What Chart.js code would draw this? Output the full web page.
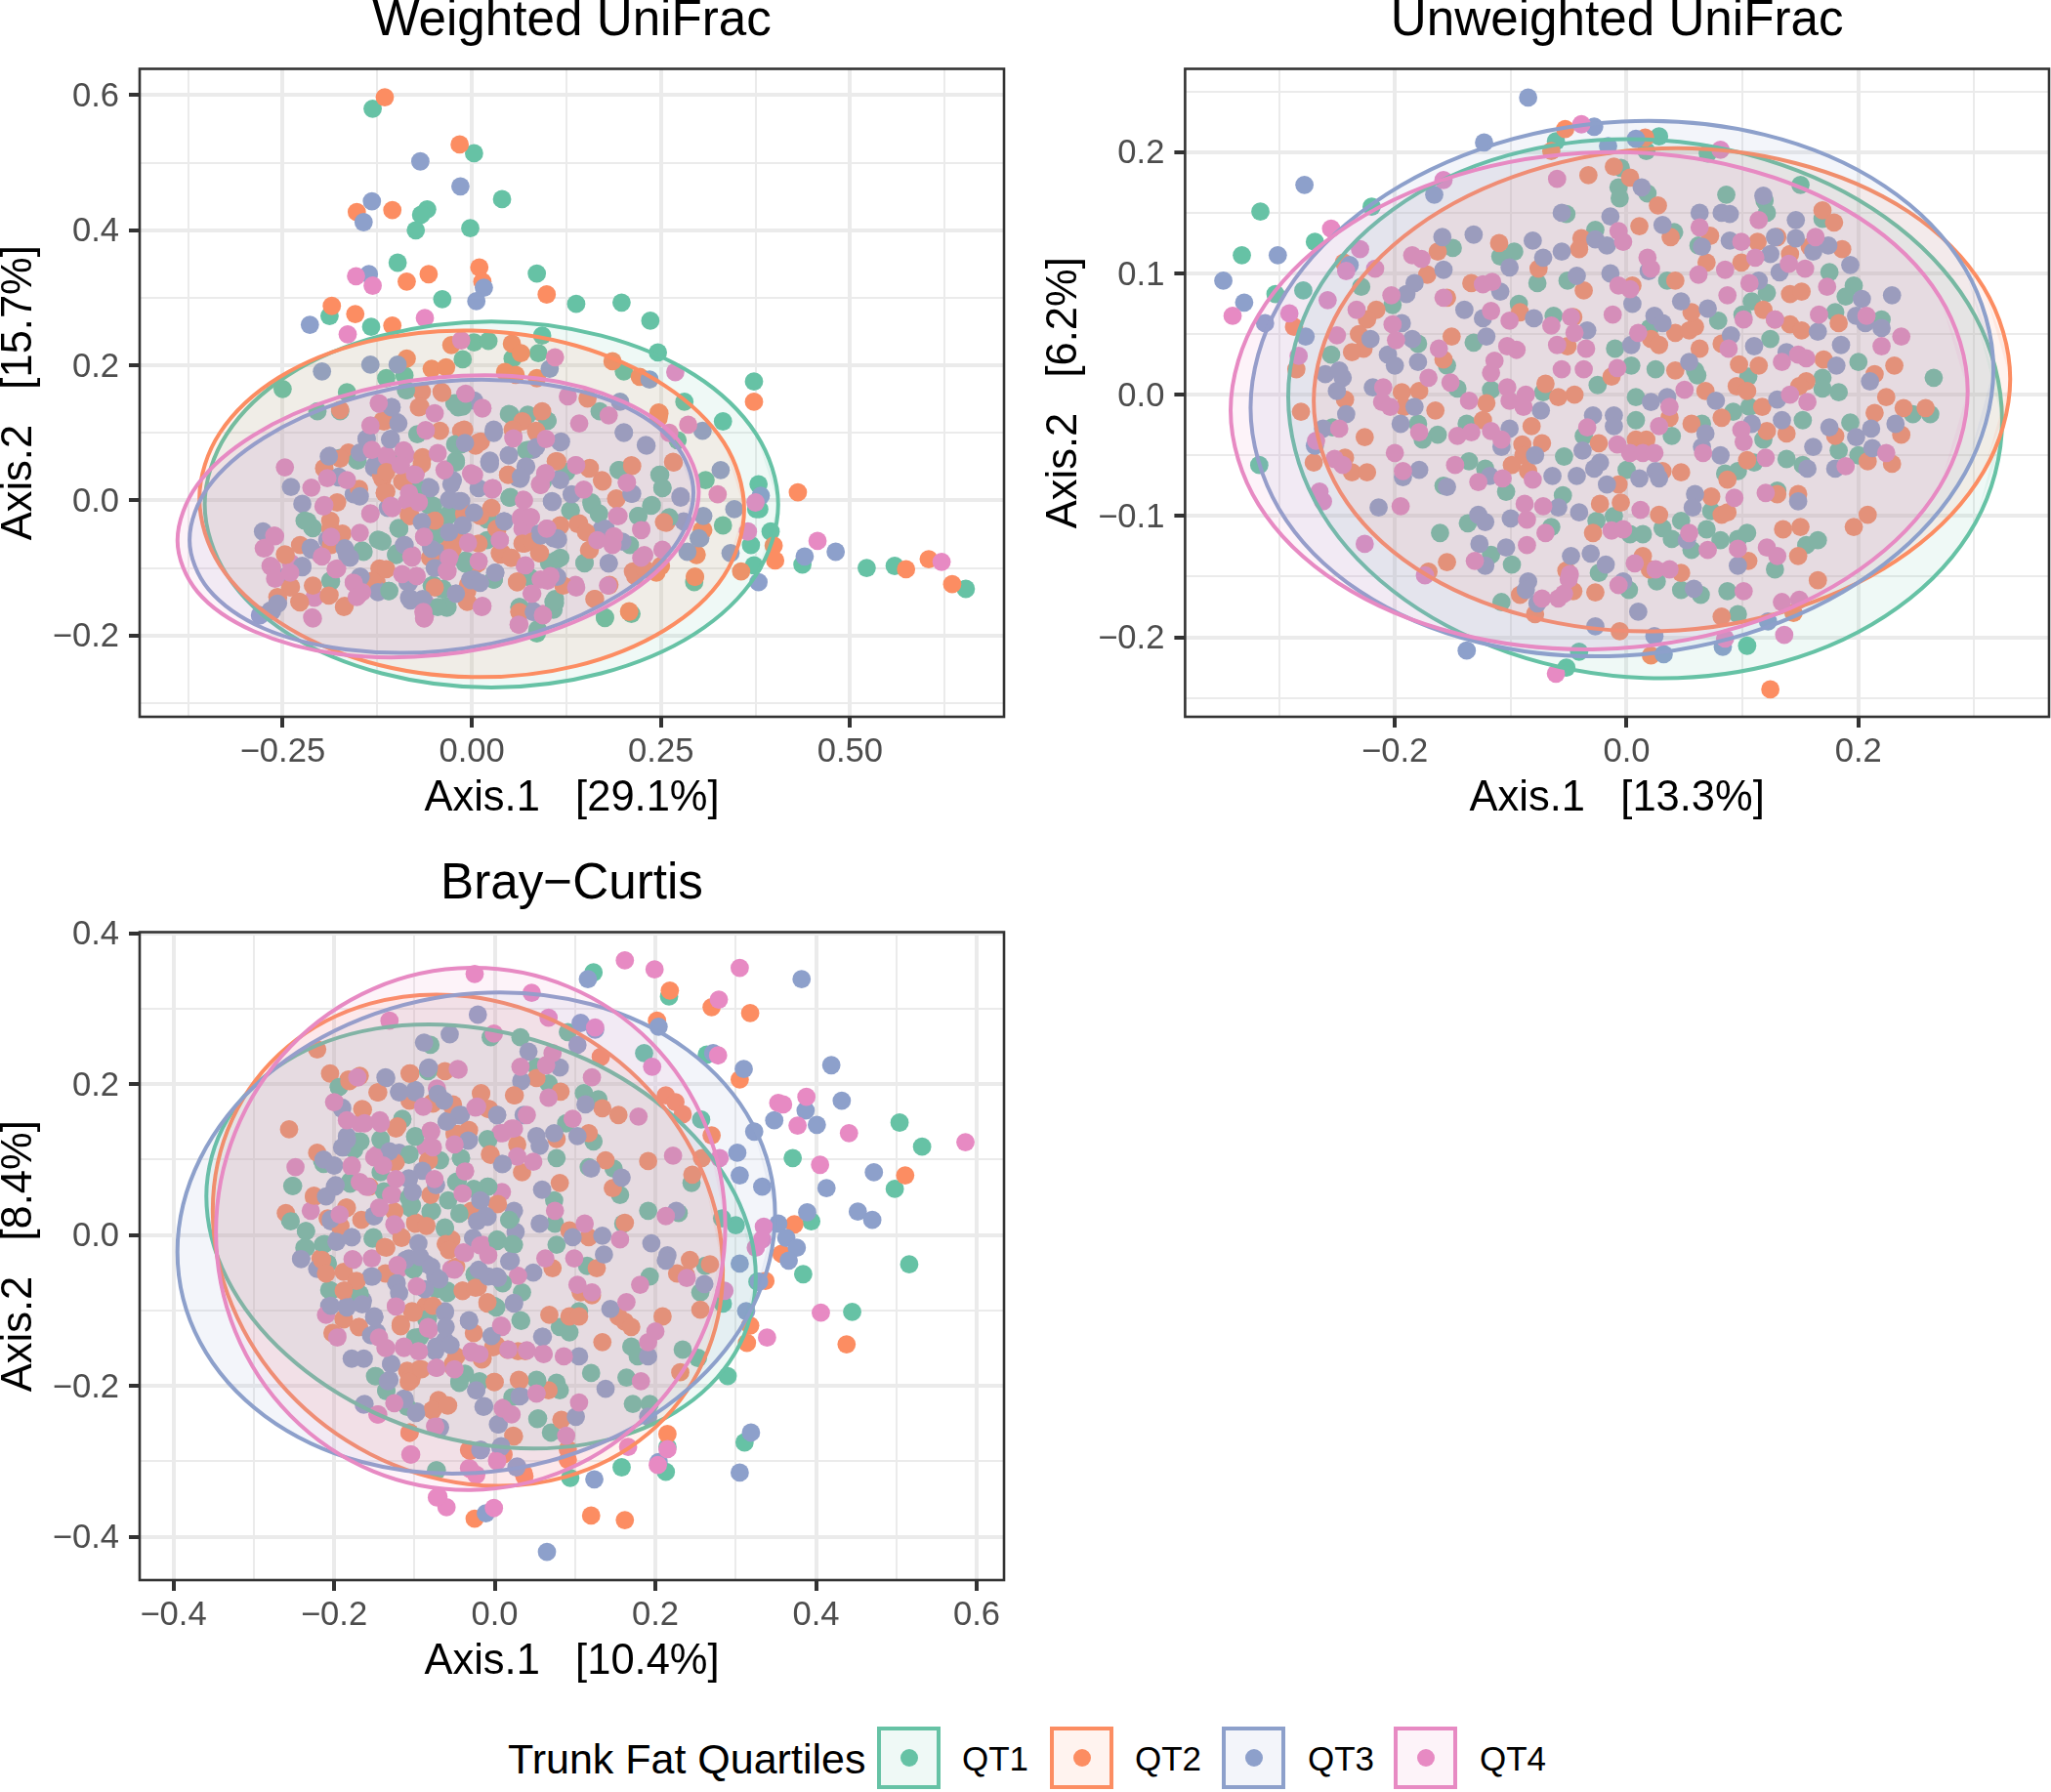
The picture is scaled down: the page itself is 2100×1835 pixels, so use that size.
<!DOCTYPE html>
<html>
<head>
<meta charset="utf-8">
<script src="https://cdn.jsdelivr.net/npm/chart.js@4/dist/chart.umd.js"></script>
<style>
html,body{margin:0;padding:0;background:#fff;width:2100px;height:1835px;overflow:hidden;font-family:"Liberation Sans",Arial,sans-serif}
canvas{position:absolute}
.lg{position:absolute;white-space:nowrap;color:#000;line-height:60px;height:60px}
.key{position:absolute;box-sizing:border-box;width:65px;height:64px;top:1768px;border-width:4px;border-style:solid}
.dot{position:absolute;width:18px;height:18px;border-radius:50%;left:19.5px;top:19px}
</style>
</head>
<body>
<canvas id="c1" width="1040" height="870" style="left:0;top:-12px"></canvas>
<canvas id="c2" width="1047" height="870" style="left:1070px;top:-12px"></canvas>
<canvas id="c3" width="1040" height="870" style="left:0;top:872px"></canvas>
<div class="lg" style="left:520px;top:1771px;font-size:43px">Trunk Fat Quartiles</div>
<div class="key" style="left:898px;background:rgba(102,194,165,.1);border-color:#66C2A5"><div class="dot" style="background:#66C2A5"></div></div>
<div class="lg" style="left:985px;top:1771px;font-size:35px">QT1</div>
<div class="key" style="left:1075px;background:rgba(252,141,98,.1);border-color:#FC8D62"><div class="dot" style="background:#FC8D62"></div></div>
<div class="lg" style="left:1162px;top:1771px;font-size:35px">QT2</div>
<div class="key" style="left:1251px;background:rgba(141,160,203,.1);border-color:#8DA0CB"><div class="dot" style="background:#8DA0CB"></div></div>
<div class="lg" style="left:1339px;top:1771px;font-size:35px">QT3</div>
<div class="key" style="left:1427px;background:rgba(231,138,195,.1);border-color:#E78AC3"><div class="dot" style="background:#E78AC3"></div></div>
<div class="lg" style="left:1515px;top:1771px;font-size:35px">QT4</div>
<script>
const groupNames = ["QT1","QT2","QT3","QT4"];
const groupColors = ["#66C2A5","#FC8D62","#8DA0CB","#E78AC3"];
const groupFills = ["rgba(102,194,165,.1)","rgba(252,141,98,.1)","rgba(141,160,203,.1)","rgba(231,138,195,.1)"];

// ---------- Weighted UniFrac ----------
const weightedXTicks = [-0.375,-0.25,-0.125,0,0.125,0.25,0.375,0.5,0.625];
const weightedXMajor = [-0.25,0,0.25,0.5];
const weightedYTicks = [-0.3,-0.2,-0.1,0,0.1,0.2,0.3,0.4,0.5,0.6];
const weightedYMajor = [-0.2,0,0.2,0.4,0.6];
const weightedQT1 = [[-.131,.580],[.003,.514],[.040,.446],[-.059,.431],[-.067,.423],[-.074,.400],[-.002,.403],[-.098,.352],[.086,.336],[-.039,.298],[.138,.291],[.198,.293],[.236,.266],[-.188,.273],[-.133,.257],[.093,.244],[.246,.219],[.003,.234],[.022,.236],[-.012,.209],[.088,.218],[.054,.210],[.201,.191],[-.25,.165],[.373,.176],[.281,.146],[.332,.117],[.272,.089],[.379,.024],[.376,-.013],[.380,-.013],[.395,-.046],[.369,-.066],[.373,-.096],[.437,-.095],[.522,-.100],[.559,-.097],[.653,-.131],[.294,-.121],[.211,-.168],[.176,-.173],[.086,-.197],[.110,-.152],[.064,-.160],[-.033,-.157],[-.053,-.126],[-.110,-.134],[.332,-.037],[.309,.030],[.249,.038],[.252,.019],[.194,.045],[.261,-.027],[.238,-.007],[.220,-.023],[.209,-.066],[.159,-.007],[.168,-.019],[.131,-.015],[.111,-.089],[.149,-.092],[.169,.132],[.100,.118],[.051,.127],[.075,.075],[-.014,.083],[-.018,.138],[-.086,.163],[-.089,.185],[-.113,.181],[-.165,.160],[-.204,.132],[-.174,.132],[-.152,.060],[-.174,.063],[-.106,.060],[-.073,.016],[-.217,-.031],[-.210,-.041],[-.096,-.042],[-.124,-.058],[-.145,-.074],[.021,-.027],[-.027,-.019],[-.057,-.007],[-.099,-.078],[-.008,-.089],[.029,-.117],[-.187,-.119],[.094,.028],[.051,.005]];
const weightedQT2 = [[-.115,.597],[-.016,.527],[-.152,.427],[-.105,.430],[.010,.345],[.014,.324],[-.057,.335],[-.086,.324],[.099,.305],[-.185,.288],[-.154,.276],[-.105,.259],[-.027,.230],[.053,.232],[.065,.218],[-.086,.210],[-.053,.195],[-.034,.197],[.044,.190],[.058,.186],[.086,.181],[.186,.206],[.222,.183],[.373,.146],[.247,.130],[.247,.122],[.431,.012],[.399,-.067],[.401,-.089],[.356,-.105],[.604,-.087],[.574,-.102],[.635,-.124],[.295,-.113],[.297,-.080],[.306,-.044],[.257,-.033],[.267,.056],[.211,.052],[.191,.003],[.172,.030],[.156,.048],[.111,.058],[.153,.151],[.092,.130],[.068,.118],[.086,.100],[.012,.087],[-.014,.103],[-.042,.103],[-.066,.161],[-.040,.161],[-.070,.138],[-.174,.134],[-.195,.048],[-.163,.071],[-.118,.118],[-.118,.032],[-.150,.016],[-.113,.013],[-.178,-.003],[-.187,-.042],[-.083,-.023],[-.050,-.031],[-.247,-.080],[-.227,-.066],[-.239,-.128],[-.228,-.150],[-.256,-.144],[-.168,-.156],[-.188,-.140],[-.122,-.101],[-.126,-.121],[-.007,-.148],[-.005,-.125],[.008,-.093],[.038,-.080],[.060,-.121],[.064,-.164],[.068,-.062],[.090,-.078],[.116,-.038],[.142,-.034],[.155,-.074],[.182,-.125],[.162,-.146],[.208,-.165],[.213,-.105],[.244,-.107],[.250,-.097],[.034,-.042]];
const weightedQT3 = [[-.068,.502],[-.015,.465],[-.132,.443],[-.143,.412],[-.136,.335],[.016,.315],[.006,.295],[-.214,.260],[-.198,.191],[-.134,.201],[-.098,.201],[.103,.195],[.235,.179],[.196,.146],[.201,.101],[.231,.081],[.305,.103],[.329,.045],[.382,.007],[.276,.006],[.212,.010],[.347,-.013],[.302,-.056],[.342,-.078],[.440,-.083],[.481,-.076],[.379,-.121],[.280,-.031],[-.239,.020],[-.224,-.005],[-.276,-.046],[-.188,.066],[-.176,.034],[-.107,.091],[-.099,.116],[-.106,.138],[-.139,.091],[-.129,.048],[-.156,.009],[-.010,.085],[.003,.148],[.029,.100],[.049,.067],[.023,.057],[.081,.075],[.118,.087],[.064,.032],[.116,.032],[-.027,.024],[-.057,.020],[.107,-.002],[.042,-.031],[.090,-.050],[.114,-.058],[.111,-.113],[.081,-.165],[.181,-.093],[.172,-.042],[-.053,-.074],[-.089,-.066],[-.165,-.081],[-.213,-.070],[-.224,-.099],[-.148,-.113],[-.191,-.058],[-.247,-.113],[-.256,-.152],[-.264,-.164],[-.280,-.170],[-.126,-.132],[-.083,-.144],[-.066,-.148],[-.001,-.117],[-.031,-.046],[-.111,-.011]];
const weightedQT4 = [[-.153,.332],[-.131,.318],[-.062,.270],[-.164,.246],[-.014,.237],[.110,.212],[.269,.190],[-.009,.157],[.014,.137],[.127,.154],[.142,.114],[.181,.126],[.286,.112],[.261,.100],[.137,.052],[.205,.027],[.325,.009],[.375,-.003],[.365,-.046],[.457,-.060],[.621,-.091],[-.247,.049],[-.212,.019],[-.122,.143],[-.133,.110],[-.133,.075],[-.061,.103],[-.087,.067],[-.113,.067],[-.273,-.070],[-.261,-.052],[-.264,-.099],[-.239,-.093],[-.211,-.173],[-.208,-.144],[-.200,-.081],[-.178,-.101],[-.156,-.121],[-.150,-.140],[-.134,-.019],[-.195,-.007],[-.105,-.011],[-.079,-.081],[-.035,.044],[-.074,.040],[-.001,.040],[.027,.016],[-.005,-.062],[-.031,-.089],[-.033,-.105],[.014,-.156],[-.062,-.172],[-.061,-.152],[.055,.095],[.090,.024],[.068,.001],[.068,-.023],[.073,-.042],[.099,-.042],[.094,-.168],[.063,-.183],[.137,-.125],[.187,-.054],[.228,-.081],[.224,-.042],[.194,-.023]];
const weightedCoreQT1 = [[-.012,.139],[-.023,.144],[-.087,.163],[-.072,.098],[-.022,.083],[-.021,.059],[-.151,.059],[-.106,.055],[-.074,.017],[-.051,-.008],[-.032,-.023],[-.211,-.040],[-.221,-.030],[-.097,-.041],[-.122,-.059],[-.143,-.076],[-.100,-.081],[-.186,-.120],[-.110,-.134],[-.051,-.125],[-.039,-.132],[-.033,-.159],[-.009,-.093],[.049,.128],[.074,.127],[.100,.118],[.072,.074],[.125,.042],[.195,.045],[.248,.038],[.252,.018],[.050,.004],[.130,-.015],[.158,-.003],[.168,-.020],[.220,-.023],[.237,-.008],[.261,-.025],[.020,-.028],[.117,-.085],[.149,-.093],[.104,-.093],[.029,-.117],[.110,-.146],[.108,-.162],[.063,-.158],[.176,-.174]];
const weightedCoreQT2 = [[-.039,.159],[-.068,.139],[-.116,.117],[-.120,.037],[-.115,.011],[-.187,-.030],[-.149,.017],[-.195,.047],[-.174,.062],[-.083,-.020],[-.049,-.030],[-.065,.064],[-.092,.028],[-.010,.105],[.005,.081],[-.171,-.049],[-.186,-.066],[-.246,-.081],[-.240,-.129],[-.227,-.151],[-.210,-.126],[-.189,-.141],[-.169,-.158],[-.257,-.143],[-.120,-.102],[-.131,-.119],[-.006,-.150],[-.030,-.069],[.093,.132],[.067,.117],[.085,.103],[.054,.105],[.113,.058],[.048,.038],[.155,.047],[.173,.028],[.191,.002],[.212,.051],[.266,.057],[.248,.129],[.254,-.032],[.140,-.035],[.151,-.047],[.117,-.037],[.156,-.073],[.070,-.064],[.089,-.078],[.040,-.078],[.052,-.085],[.009,.086],[.033,-.044],[.060,-.121],[.121,-.126],[.181,-.126],[.163,-.146],[.216,-.112],[.229,-.102],[.063,-.165],[.208,-.164],[.295,-.113],[.297,-.081],[.304,-.044]];
const weightedCoreQT3 = [[-.106,.138],[-.097,.114],[-.108,.090],[-.139,.091],[-.009,.085],[-.148,.071],[-.128,.052],[-.189,.065],[-.176,.035],[-.148,.006],[-.055,.018],[-.029,.001],[-.014,-.001],[-.064,-.032],[-.030,-.048],[-.212,-.073],[-.168,-.071],[-.161,-.085],[-.090,-.067],[-.054,-.068],[-.047,-.076],[-.224,-.097],[-.147,-.113],[-.002,-.117],[-.266,-.163],[-.257,-.153],[-.083,-.122],[-.064,-.147],[-.081,-.148],[-.021,-.138],[-.124,-.136],[.009,.018],[.029,.105],[.049,.067],[.024,.059],[.085,.079],[.117,.086],[.072,.050],[.061,.033],[.117,.030],[.132,.009],[.106,-.001],[.201,.100],[.230,.082],[.211,.010],[.276,.004],[.043,-.031],[.089,-.049],[.113,-.056],[.177,-.042],[.199,-.061],[.181,-.093],[.031,-.107],[.113,-.113],[.080,-.163],[.003,-.117],[.300,-.056],[.285,-.076],[.306,-.023]];
const weightedCoreQT4 = [[-.123,.144],[-.049,.129],[-.008,.158],[-.134,.111],[-.061,.104],[-.132,.075],[-.090,.074],[-.112,.064],[-.045,.070],[-.094,.052],[-.075,.037],[-.035,.046],[.001,.037],[-.191,.033],[-.165,.030],[-.196,-.009],[-.134,-.020],[-.105,-.011],[-.085,-.001],[-.068,.001],[-.148,-.048],[-.186,-.054],[-.063,-.054],[-.006,-.062],[-.079,-.085],[-.029,-.085],[-.198,-.083],[-.180,-.102],[-.073,-.112],[-.032,-.105],[-.260,-.053],[-.275,-.071],[-.266,-.097],[-.260,-.116],[-.240,-.107],[-.156,-.122],[-.145,-.136],[-.152,-.143],[-.210,-.175],[-.063,-.175],[.014,.136],[.055,.092],[.098,.091],[.138,.052],[.205,.026],[.098,.040],[.091,.023],[.148,.016],[.027,.018],[.065,-.025],[.078,-.025],[.067,-.042],[.100,-.042],[.192,-.023],[.188,-.053],[.224,-.044],[.166,-.059],[.186,-.066],[.224,-.085],[.252,-.073],[.070,-.097],[.009,-.090],[.037,-.059],[.100,-.119],[.138,-.129],[.080,-.138],[.014,-.157],[.094,-.170],[.062,-.184],[.180,-.126]];
const weightedDenseQT1 = [[-.072,.017],[-.021,.056],[-.055,-.006],[.050,.004],[-.030,-.020],[.021,-.027],[-.096,-.042],[-.118,-.061],[-.100,-.080],[-.047,-.052],[.020,-.059],[-.008,-.093],[.102,-.092],[-.038,-.131],[-.051,-.126],[-.032,-.158],[-.045,-.158],[.029,-.117],[-.109,-.134],[.077,-.114],[.108,-.150],[.063,-.158],[.087,-.191]];
const weightedDenseQT2 = [[-.066,.054],[-.113,.042],[-.115,.011],[-.090,.028],[.048,.038],[.026,-.011],[.011,-.023],[-.010,-.020],[-.081,-.023],[-.049,-.030],[.033,-.042],[-.023,-.052],[.067,-.064],[.080,-.061],[.090,-.078],[-.025,-.071],[.009,-.064],[.037,-.078],[.052,-.085],[-.113,-.102],[-.055,-.085],[.060,-.120],[-.006,-.134],[-.006,-.150],[.063,-.165],[-.049,-.129]];
const weightedDenseQT3 = [[.024,.054],[.071,.050],[.065,.035],[-.025,.030],[-.055,.018],[-.017,-.001],[-.030,.001],[.003,-.018],[.106,-.002],[.043,-.031],[-.012,-.037],[-.066,-.032],[-.030,-.047],[.091,-.052],[.108,-.056],[-.089,-.066],[-.053,-.072],[.031,-.107],[-.001,-.118],[.011,-.122],[-.021,-.138],[-.085,-.121],[-.081,-.146],[-.065,-.146],[.082,-.165],[-.049,-.100]];
const weightedDenseQT4 = [[-.094,.052],[-.075,.038],[-.036,.045],[.003,.038],[.028,.018],[.097,.040],[.091,.023],[-.083,.011],[-.107,-.008],[-.070,-.003],[.069,0],[.065,-.027],[.078,-.025],[-.063,-.054],[-.080,-.083],[-.005,-.063],[.037,-.059],[-.030,-.085],[-.033,-.104],[.009,-.090],[.071,-.096],[-.073,-.112],[-.092,-.109],[-.064,-.165],[-.063,-.174],[.013,-.158],[.079,-.138],[.094,-.170],[.062,-.184],[.104,-.112],[.091,-.117],[.099,-.042]];
const weightedEllipseQT1 = [[.405,-.006],[.376,.098],[.294,.186],[.171,.244],[.026,.265],[-.119,.244],[-.242,.186],[-.324,.098],[-.353,-.006],[-.324,-.110],[-.242,-.198],[-.119,-.256],[.026,-.277],[.171,-.256],[.294,-.198],[.376,-.110]];
const weightedEllipseQT2 = [[.360,-.013],[.333,.086],[.255,.170],[.138,.229],[0,.2515],[-.138,.235],[-.255,.182],[-.333,.100],[-.360,.003],[-.333,-.096],[-.255,-.180],[-.138,-.239],[0,-.2615],[.138,-.245],[.255,-.192],[.333,-.112]];
const weightedEllipseQT3 = [[.293,.0115],[.268,.0845],[.195,.1425],[.087,.1735],[-.040,.176],[-.167,.1475],[-.275,.0925],[-.348,.0205],[-.373,-.0585],[-.348,-.1315],[-.275,-.1895],[-.167,-.2205],[-.040,-.223],[.087,-.1945],[.195,-.1395],[.268,-.0675]];
const weightedEllipseQT4 = [[.300,.0125],[.2735,.0885],[.1995,.1465],[.0875,.1805],[-.0445,.182],[-.1765,.1525],[-.2885,.0965],[-.3625,.0235],[-.389,-.0595],[-.3625,-.1355],[-.2885,-.1935],[-.1765,-.2275],[-.0445,-.229],[.0875,-.1995],[.1995,-.1435],[.2735,-.0695]];

// ---------- Unweighted UniFrac ----------
const unweightedXTicks = [-0.3,-0.2,-0.1,0,0.1,0.2,0.3];
const unweightedXMajor = [-0.2,0,0.2];
const unweightedYTicks = [-0.25,-0.2,-0.15,-0.1,-0.05,0,0.05,0.1,0.15,0.2,0.25];
const unweightedYMajor = [-0.2,-0.1,0,0.1,0.2];
const unweightedQT1 = [[-.316,.151],[-.332,.115],[-.269,.126],[-.220,.155],[-.303,.083],[-.279,.086],[-.229,.089],[-.255,.033],[-.202,.074],[-.317,-.058],[-.254,-.027],[-.180,.042],[-.155,.024],[-.132,.043],[-.150,.121],[-.109,.114],[-.097,.118],[-.077,.092],[-.093,.075],[-.063,.065],[-.051,.094],[-.052,.149],[-.061,.209],[-.027,.136],[-.005,.187],[-.007,.171],[-.006,.162],[.017,.201],[.028,.213],[.070,.199],[.018,.166],[.041,.134],[.062,.123],[.086,.165],[.119,.160],[.121,.150],[.150,.173],[.169,.145],[.175,.101],[.196,.090],[.189,.081],[.180,.068],[.220,.062],[.265,.014],[.262,-.016],[.247,-.016],[.200,.027],[.183,.002],[.169,.014],[.169,.005],[.152,-.021],[.193,-.023],[.183,-.046],[.200,-.050],[.152,-.058],[.138,-.053],[.118,-.037],[.110,-.056],[.106,-.010],[.092,-.014],[.105,.015],[.124,.046],[.100,.066],[.121,.084],[.108,.077],[.079,.061],[.059,.020],[.061,.016],[.025,.021],[.004,.024],[-.010,.038],[.020,.055],[.035,.094],[-.025,.008],[-.072,.002],[-.117,.004],[-.146,.005],[-.138,-.024],[-.163,-.033],[-.180,-.024],[-.176,-.037],[-.158,-.075],[-.136,-.055],[-.054,-.051],[-.037,-.034],[.008,-.002],[.008,-.021],[.039,-.034],[.065,-.024],[0,-.062],[-.055,-.083],[-.104,-.080],[-.122,-.061],[-.161,-.114],[-.137,-.106],[-.065,-.109],[-.026,-.104],[-.011,-.100],[.003,-.115],[.014,-.115],[.031,-.110],[.047,-.104],[.039,-.119],[.069,-.111],[.081,-.120],[.096,-.119],[.104,-.114],[.155,-.124],[.165,-.120],[.128,-.144],[.096,-.181],[.104,-.207],[.087,-.162],[.064,-.165],[.047,-.161],[.026,-.154],[.002,-.161],[-.024,-.147],[-.099,-.140],[-.117,-.132],[-.108,-.171],[-.041,-.212],[-.052,-.225],[.056,-.128],[.130,-.079],[.073,-.096],[.085,-.065],[.096,-.063]];
const unweightedQT2 = [[-.053,.219],[.016,.212],[-.065,.201],[-.033,.181],[-.011,.188],[.003,.179],[.027,.156],[.011,.139],[.038,.130],[.072,.131],[.169,.152],[.179,.142],[.186,.120],[.158,.122],[.141,.116],[.130,.130],[.113,.126],[.099,.109],[.069,.109],[.042,.094],[.005,.090],[-.037,.086],[-.039,.129],[-.041,.120],[-.076,.104],[-.110,.125],[-.163,.118],[-.172,.099],[-.134,.092],[-.155,.080],[-.216,.070],[-.224,.062],[-.231,.050],[-.227,.038],[-.237,.035],[-.287,.056],[-.285,.021],[-.281,-.014],[-.270,-.056],[-.243,-.004],[-.243,-.052],[-.237,-.064],[-.224,-.064],[-.226,-.035],[-.244,.109],[-.151,.048],[-.158,.029],[-.092,.068],[-.046,.064],[-.051,.040],[-.070,.009],[-.045,0],[-.059,-.002],[-.121,-.007],[-.194,.002],[-.179,.003],[-.192,-.010],[-.165,-.013],[-.124,-.021],[-.082,-.026],[-.090,-.041],[-.073,-.040],[-.089,-.050],[-.099,-.058],[-.085,-.063],[-.013,.015],[.021,.046],[.028,.041],[.042,.051],[.054,.053],[.059,.056],[.056,.068],[.063,.038],[.042,.020],[.068,.003],[.082,.042],[.097,.025],[.114,.024],[.095,.007],[.104,.003],[.117,-.010],[.118,.070],[.128,.062],[.141,.083],[.151,.085],[.141,.058],[.151,.053],[.183,.059],[.170,.029],[.155,.011],[.149,.007],[.214,.017],[.231,.024],[.224,-.002],[.214,-.015],[.239,-.011],[.258,-.011],[.237,-.033],[.229,-.057],[.208,-.055],[.180,-.034],[.138,-.032],[.121,-.030],[.104,-.054],[.087,-.070],[.082,-.019],[.037,-.019],[.056,-.024],[.008,-.037],[.017,-.037],[-.024,-.040],[-.007,-.074],[-.005,-.089],[-.023,-.090],[.028,-.099],[.047,-.064],[.031,-.063],[.073,-.084],[.082,-.099],[.087,-.097],[.130,-.082],[.148,-.082],[.135,-.111],[.150,-.109],[.196,-.109],[.208,-.099],[.148,-.133],[.165,-.153],[.105,-.137],[.047,-.147],[.020,-.144],[.014,-.133],[-.029,-.114],[-.052,-.145],[-.046,-.162],[-.027,-.163],[-.092,-.165],[-.155,-.138],[-.171,-.146],[-.079,-.181],[-.006,-.195],[.082,-.183],[.144,-.180],[.021,-.215],[.124,-.243]];
const unweightedQT3 = [[-.085,.245],[-.028,.221],[-.123,.208],[-.016,.205],[.008,.211],[-.166,.165],[-.278,.173],[-.301,.115],[-.348,.094],[-.330,.076],[-.312,.059],[-.277,.048],[-.239,.107],[-.159,.130],[-.132,.132],[-.081,.127],[-.056,.118],[-.072,.113],[-.101,.105],[-.158,.103],[-.183,.092],[-.190,.083],[-.194,.059],[-.221,.046],[-.206,.033],[-.200,.024],[-.180,.027],[-.185,.046],[-.109,.085],[-.140,.070],[-.124,.063],[-.121,.048],[-.080,.063],[-.034,.053],[-.043,.098],[-.056,.150],[-.014,.147],[-.027,.128],[-.017,.123],[.013,.171],[.031,.140],[-.014,.100],[.019,.102],[.005,.075],[.024,.065],[.031,.059],[.004,.041],[.047,.077],[.070,.071],[.063,.150],[.082,.150],[.089,.149],[.065,.122],[.089,.127],[.118,.164],[.146,.144],[.128,.130],[.146,.129],[.124,.116],[.132,.101],[.114,.094],[.174,.123],[.161,.118],[.193,.107],[.229,.082],[.203,.079],[.198,.065],[.220,.055],[.206,.059],[.165,.052],[.185,.041],[.181,.024],[.210,.011],[.138,.035],[.110,.040],[.090,.049],[.054,.027],[-.260,.017],[-.248,.020],[-.245,.014],[-.250,.003],[-.219,.006],[-.242,-.016],[-.269,-.042],[-.262,-.028],[-.195,-.024],[-.183,-.010],[-.193,-.068],[-.179,-.062],[-.214,-.093],[-.155,-.076],[-.108,-.043],[-.101,-.028],[-.074,-.013],[-.079,-.050],[-.118,-.067],[-.064,-.067],[-.043,-.067],[-.038,-.046],[-.023,-.056],[-.028,-.061],[-.017,-.074],[-.029,-.017],[-.011,-.017],[-.011,-.026],[.021,-.006],[.035,-.002],[.077,-.005],[.068,-.032],[.065,-.043],[.081,-.050],[.108,-.024],[.130,-.004],[.134,-.021],[.161,-.043],[.175,-.027],[.180,-.061],[.156,-.061],[.198,-.035],[.212,-.044],[.211,-.028],[.232,-.024],[.011,-.069],[.025,-.063],[.028,-.069],[.059,-.082],[.057,-.093],[.148,-.088],[-.128,-.099],[-.122,-.105],[-.100,-.102],[-.059,-.093],[-.041,-.097],[-.127,-.123],[-.104,-.126],[-.122,-.141],[-.048,-.133],[-.031,-.131],[-.018,-.140],[-.003,-.154],[-.085,-.154],[-.087,-.161],[-.077,-.172],[.052,-.120],[.096,-.141],[.058,-.160],[.010,-.179],[-.027,-.191],[.024,-.199],[.032,-.214],[.122,-.187],[.083,-.208],[-.138,-.211]];
const unweightedQT4 = [[-.039,.223],[-.158,.177],[-.255,.137],[-.230,.120],[-.242,.102],[-.217,.104],[-.340,.065],[-.291,.067],[-.258,.078],[-.233,.070],[-.250,.049],[-.283,.032],[-.203,.082],[-.202,.058],[-.199,.045],[-.185,.115],[-.177,.112],[-.158,.080],[-.162,.038],[-.124,.091],[-.116,.093],[-.117,.069],[-.101,.061],[-.103,.040],[-.095,.037],[-.114,.028],[-.117,.018],[-.103,.006],[-.101,-.005],[-.171,.014],[-.152,.010],[-.210,.006],[-.211,-.006],[-.204,-.010],[-.136,-.005],[-.087,0],[-.089,-.010],[-.248,-.028],[-.268,-.038],[-.252,-.053],[-.245,-.058],[-.265,-.080],[-.262,-.088],[-.200,-.048],[-.193,-.063],[-.179,-.031],[-.148,-.058],[-.146,-.034],[-.134,-.031],[-.117,-.030],[-.108,-.037],[-.128,-.072],[-.107,-.069],[-.081,-.070],[-.195,-.092],[-.226,-.123],[-.174,-.149],[-.131,-.137],[-.088,-.090],[-.072,-.092],[-.086,-.103],[-.070,-.114],[-.086,-.124],[-.049,-.148],[-.073,-.168],[-.059,-.168],[-.054,-.164],[-.061,-.230],[-.050,-.152],[-.065,.057],[-.048,.064],[-.045,.051],[-.060,.041],[-.035,.038],[-.056,.021],[-.037,.021],[-.060,.178],[-.007,.135],[-.003,.126],[-.007,.090],[.003,.087],[-.012,.066],[.010,.051],[-.008,.022],[.018,.113],[.021,.104],[.081,.202],[.063,.138],[.099,.126],[.114,.144],[.111,.113],[.062,.099],[.085,.103],[.106,.092],[.087,.082],[.101,.062],[.128,.062],[.140,.108],[.154,.104],[.163,.130],[.173,.089],[.166,.066],[.207,.065],[.220,.040],[.237,.048],[.134,.027],[.148,.033],[.155,.030],[.088,.038],[.050,.004],[.028,-.026],[.037,-.010],[.099,-.029],[.101,-.039],[.141,0],[-.034,-.027],[-.008,-.041],[.003,-.048],[.014,-.048],[.024,-.048],[.066,-.048],[.120,-.052],[.156,-.006],[.189,-.059],[.224,-.048],[.093,-.085],[.120,-.081],[.012,-.095],[-.013,-.112],[-.003,-.111],[.054,-.114],[.070,-.128],[.096,-.127],[.121,-.126],[.130,-.133],[.007,-.139],[.037,-.144],[.025,-.144],[-.007,-.157],[.101,-.162],[.134,-.171],[.149,-.169],[.136,-.198],[.085,-.201]];
const unweightedEllipseQT1 = [[.324,-.0215],[.301,.0645],[.234,.1385],[.134,.1895],[.016,.2105],[-.102,.1975],[-.202,.1525],[-.269,.0825],[-.292,-.0015],[-.269,-.0875],[-.202,-.1615],[-.102,-.2125],[.016,-.2335],[.134,-.2205],[.234,-.1755],[.301,-.1055]];
const unweightedEllipseQT2 = [[.331,.013],[.308,.0885],[.243,.151],[.1455,.191],[.0305,.203],[-.0845,.184],[-.182,.138],[-.247,.0715],[-.270,-.005],[-.247,-.0805],[-.182,-.143],[-.0845,-.183],[.0305,-.195],[.1455,-.176],[.243,-.130],[.308,-.0635]];
const unweightedEllipseQT3 = [[.3165,.0208],[.292,.104],[.2226,.172],[.1187,.2144],[-.004,.2252],[-.1267,.2024],[-.2306,.1495],[-.300,.0747],[-.3245,-.0108],[-.300,-.094],[-.2306,-.1619],[-.1267,-.2044],[-.004,-.2152],[.1187,-.1924],[.2226,-.1395],[.292,-.0647]];
const unweightedEllipseQT4 = [[.2943,.003],[.2701,.0808],[.2012,.1455],[.098,.1872],[-.0237,.1998],[-.1454,.1812],[-.2486,.1341],[-.3175,.0660],[-.3417,-.013],[-.3175,-.0908],[-.2486,-.1555],[-.1454,-.1972],[-.0237,-.2098],[.098,-.1912],[.2012,-.1441],[.2701,-.076]];

// ---------- Bray-Curtis ----------
const brayXTicks = [-0.4,-0.3,-0.2,-0.1,0,0.1,0.2,0.3,0.4,0.5,0.6];
const brayXMajor = [-0.4,-0.2,0,0.2,0.4,0.6];
const brayYTicks = [-0.4,-0.3,-0.2,-0.1,0,0.1,0.2,0.3,0.4];
const brayYMajor = [-0.4,-0.2,0,0.2,0.4];
const brayQT1 = [[.123,.348],[.217,.316],[.504,.149],[.532,.117],[.498,.061],[.371,.102],[.394,.018],[.516,-.039],[.384,-.052],[.445,-.102],[.300,.013],[.283,.022],[.257,.153],[.264,.239],[.186,.241],[.160,.015],[.191,.032],[.229,.029],[.156,.053],[.123,.124],[.089,.148],[.111,.188],[.129,.180],[.091,.269],[.032,.262],[-.005,.262],[-.080,.252],[.067,.201],[.052,.223],[-.009,.127],[.077,.102],[.117,.090],[.148,.088],[.245,.069],[.074,.046],[.020,.022],[.024,-.013],[.075,.015],[.077,-.013],[.115,-.041],[.193,-.055],[.262,-.041],[.256,-.076],[.284,-.091],[.327,-.062],[.105,-.101],[.032,-.113],[.081,-.122],[.093,-.129],[.170,-.148],[.178,-.161],[.234,-.152],[.253,-.163],[.290,-.187],[.120,-.183],[.164,-.189],[.052,-.192],[.077,-.196],[.081,-.206],[.172,-.224],[.193,-.224],[.054,-.243],[.070,-.262],[-.044,-.194],[-.135,-.206],[-.149,-.187],[-.020,-.196],[.311,-.275],[.215,-.281],[.158,-.308],[.213,-.314],[.094,-.322],[-.072,-.312],[-.252,.065],[-.255,.020],[-.235,.005],[-.237,-.017],[-.215,.099],[-.194,.196],[-.172,.124],[-.142,.127],[-.107,.106],[-.115,.153],[-.099,.131],[-.068,.099],[-.042,.102],[-.046,.071],[-.009,.064],[-.103,.039],[-.078,.032],[-.043,.029],[-.062,.008],[-.151,-.003],[-.208,-.038],[-.214,-.013],[-.206,-.073],[-.169,-.079],[-.099,-.136],[-.059,-.074],[-.025,-.052],[.003,-.006],[.034,-.076],[-.001,-.094],[-.180,.071]];
const brayQT2 = [[.218,.324],[.202,.284],[.270,.302],[.318,.294],[.305,.206],[.511,.079],[.373,.014],[.357,-.025],[.337,-.061],[.318,-.120],[.314,-.143],[.438,-.145],[.231,-.182],[.215,-.264],[.120,-.372],[.162,-.378],[-.025,-.376],[.036,-.316],[.091,-.298],[.091,-.284],[-.032,-.285],[.011,-.291],[.024,-.267],[-.106,-.262],[.083,-.245],[-.078,-.232],[-.070,-.220],[-.058,-.226],[-.001,-.195],[.030,-.192],[.067,-.206],[-.107,-.184],[-.104,-.192],[-.094,-.178],[-.052,-.175],[-.015,-.164],[-.002,-.149],[.016,-.152],[.038,-.154],[.134,-.142],[.068,-.106],[.093,-.108],[.105,-.108],[.154,-.108],[.162,-.115],[.170,-.122],[.209,-.108],[.256,-.099],[.227,-.051],[.238,-.053],[.243,-.033],[.268,-.039],[.162,.016],[.093,.006],[.117,-.003],[.072,-.044],[.127,-.044],[.107,-.076],[.121,-.080],[-.009,-.091],[-.040,-.074],[-.021,-.069],[-.103,-.101],[-.086,-.094],[-.117,-.121],[-.169,-.122],[-.188,-.112],[-.186,-.074],[-.172,-.062],[-.211,-.048],[-.217,-.031],[-.260,.029],[-.225,.050],[-.221,.109],[-.221,.246],[-.256,.140],[-.205,.214],[-.182,.206],[-.105,.214],[-.062,.217],[-.145,.189],[-.105,.180],[-.164,.166],[-.123,.141],[-.078,.175],[-.052,.173],[-.017,.188],[-.007,.167],[.025,.185],[.052,.208],[.082,.190],[.132,.236],[.134,.168],[.154,.159],[.213,.185],[.225,.176],[.234,.160],[.270,.132],[.258,.102],[.246,.080],[.191,.098],[.138,.099],[.147,.062],[.081,.069],[.034,.083],[-.005,.106],[-.033,.138],[-.050,.134],[.077,.127],[.117,.135],[.028,.120],[-.082,.099],[-.123,.097],[-.156,.064],[-.184,.036],[-.194,.013],[-.208,.022],[-.086,.015],[-.099,.017],[-.135,-.017],[-.116,-.004],[-.029,.032],[.003,.041],[-.054,-.006]];
const brayQT3 = [[.116,.339],[.382,.339],[.419,.225],[.432,.178],[.387,.165],[.348,.152],[.323,.137],[.401,.146],[.302,.109],[.305,.079],[.333,.064],[.413,.062],[.472,.083],[.452,.031],[.470,.020],[.389,.030],[.353,.015],[.363,-.004],[.376,-.017],[.366,-.034],[.305,-.038],[.329,-.062],[.313,-.101],[.272,.241],[.310,.220],[.204,.276],[.125,.272],[.107,.281],[.103,.252],[-.021,.292],[-.056,.266],[-.088,.255],[.042,.243],[.081,.222],[.033,.204],[-.082,.222],[-.135,.208],[-.119,.190],[-.099,.192],[-.070,.180],[-.190,.169],[-.042,.159],[-.058,.152],[.003,.159],[.036,.159],[.113,.173],[.052,.131],[.056,.118],[.074,.135],[.103,.131],[-.032,.126],[-.119,.109],[-.184,.131],[-.188,.116],[-.213,.099],[.009,.094],[.120,.088],[.158,.076],[.059,.060],[-.199,.064],[-.107,.074],[-.103,.057],[-.017,.046],[-.009,.024],[-.151,.025],[.024,.032],[.056,.015],[.026,.004],[.097,-.003],[.134,-.001],[.136,-.026],[.195,-.011],[.215,-.027],[.213,-.034],[.226,.032],[.261,-.065],[-.204,.018],[-.196,-.006],[-.178,-.003],[-.241,-.031],[-.221,-.045],[-.154,-.055],[-.123,-.062],[-.107,-.031],[-.086,-.038],[-.074,-.055],[.003,-.055],[.020,-.034],[.048,-.050],[-.206,-.094],[-.184,-.094],[-.164,-.087],[-.150,-.108],[-.147,-.129],[-.062,-.101],[-.032,-.114],[.024,-.091],[.060,-.135],[.105,-.161],[.191,-.161],[.144,-.098],[-.062,-.140],[-.074,-.154],[-.178,-.164],[-.163,-.164],[-.129,-.171],[-.131,-.192],[-.162,-.224],[-.113,-.217],[-.097,-.234],[-.023,-.206],[-.013,-.227],[.032,-.213],[.138,-.204],[.101,-.241],[.005,-.251],[-.068,-.255],[.007,-.282],[-.017,-.285],[.028,-.307],[.124,-.324],[.319,-.262],[.305,-.315],[.204,-.301],[-.011,-.369],[.065,-.420],[.191,-.241]];
const brayQT4 = [[.162,.364],[.199,.352],[.305,.354],[-.025,.346],[.046,.321],[.279,.312],[.067,.288],[.278,.238],[.196,.223],[-.131,.284],[-.001,.267],[.125,.275],[.072,.241],[.032,.223],[.064,.225],[.121,.209],[.067,.182],[-.046,.220],[-.170,.209],[-.072,.194],[-.199,.176],[.040,.159],[.097,.154],[.179,.157],[.353,.175],[.359,.173],[.388,.183],[.377,.145],[.441,.135],[.586,.123],[.405,.093],[.280,.102],[.222,.105],[-.024,.169],[-.168,.148],[-.143,.152],[-.080,.138],[.007,.135],[.021,.141],[-.248,.090],[-.178,.090],[-.147,.106],[-.086,.116],[.048,.097],[.028,.104],[-.037,.085],[.009,.057],[-.127,.053],[-.160,.064],[-.229,.032],[-.144,.036],[.075,.032],[.112,.015],[.213,.025],[.156,-.006],[.099,-.031],[.335,.011],[.333,-.006],[.325,-.017],[-.015,-.013],[-.037,-.024],[-.123,.011],[-.176,-.033],[-.153,-.031],[-.119,-.045],[-.054,-.045],[.029,-.054],[.063,-.031],[.103,-.066],[.121,-.076],[.181,-.066],[.239,-.057],[.286,-.074],[.164,-.089],[-.123,-.094],[-.210,-.106],[-.196,-.134],[-.082,-.126],[.009,-.122],[.191,-.142],[.200,-.128],[.339,-.136],[.406,-.103],[-.135,-.150],[-.113,-.150],[-.094,-.154],[-.029,-.156],[.060,-.157],[.086,-.161],[-.072,-.176],[.182,-.194],[.052,-.210],[.105,-.222],[.011,-.229],[-.145,-.238],[-.074,-.253],[.089,-.266],[.166,-.281],[-.105,-.291],[.003,-.298],[-.032,-.309],[.215,-.284],[.203,-.305],[-.070,-.347],[-.060,-.361],[-.001,-.362]];
const brayCoreQT1 = [[-.194,.196],[-.083,.217],[-.115,.154],[-.099,.130],[-.008,.126],[-.175,.113],[-.167,.124],[-.142,.126],[-.106,.107],[-.042,.102],[-.213,.094],[-.142,.083],[-.180,.068],[-.048,.070],[-.251,.065],[-.138,.058],[-.107,.049],[-.008,.064],[-.026,.061],[-.058,.046],[-.105,.036],[-.080,.031],[-.044,.028],[.018,.020],[-.254,.018],[-.235,.005],[-.062,.010],[-.152,-.005],[-.235,-.017],[-.212,-.012],[.003,-.008],[.022,-.012],[-.208,-.038],[-.101,-.046],[-.025,-.053],[.010,-.064],[-.204,-.074],[-.168,-.078],[-.073,-.072],[-.059,-.077],[.002,-.096],[-.085,-.113],[.033,-.114],[-.083,-.111],[-.093,-.135],[-.148,-.187],[-.135,-.207],[-.109,-.228],[-.037,-.184],[-.044,-.196],[-.019,-.194],[.053,-.244],[.053,-.193],[.022,-.215],[-.073,-.312]];
const brayCoreQT2 = [[-.168,.211],[-.181,.204],[-.106,.214],[-.146,.189],[-.106,.178],[-.077,.174],[-.165,.167],[-.121,.144],[-.054,.172],[-.032,.139],[-.046,.134],[-.017,.187],[-.008,.167],[.024,.185],[-.124,.096],[-.083,.098],[-.006,.107],[.004,.041],[-.080,.053],[-.225,.052],[-.185,.036],[-.166,.020],[-.192,.012],[-.125,.031],[-.099,.015],[-.085,.012],[-.137,-.016],[-.116,-.003],[-.215,-.033],[-.210,-.051],[-.188,-.049],[-.172,-.061],[-.188,-.074],[-.136,-.051],[-.061,-.012],[-.057,-.020],[-.040,-.074],[-.024,-.070],[-.009,-.089],[-.188,-.111],[-.101,-.103],[-.077,-.094],[-.117,-.118],[-.048,-.042],[-.169,-.122],[-.117,-.120],[-.202,-.130],[-.026,-.130],[-.109,-.180],[-.103,-.187],[-.091,-.178],[-.107,-.195],[-.052,-.171],[-.048,-.161],[-.016,-.165],[0,-.195],[.002,-.146],[.029,-.154],[.031,-.193],[-.070,-.219],[-.077,-.232],[-.059,-.226],[-.106,-.262],[.023,-.266],[-.030,-.286],[.037,-.320]];
const brayCoreQT3 = [[-.136,.209],[-.083,.221],[-.119,.189],[-.099,.189],[-.190,.167],[-.071,.187],[-.063,.178],[-.044,.159],[-.060,.150],[.003,.159],[-.033,.125],[-.184,.126],[-.190,.116],[-.131,.111],[-.213,.100],[-.200,.092],[-.090,.085],[.010,.094],[-.107,.075],[-.198,.066],[-.073,.066],[-.210,.051],[-.102,.057],[-.018,.046],[-.150,.025],[-.011,.025],[-.022,.018],[-.204,.021],[-.178,-.003],[-.197,-.009],[-.095,-.011],[-.241,-.032],[-.111,-.033],[-.093,-.029],[-.079,-.042],[-.069,-.059],[-.027,-.004],[.018,-.035],[-.020,-.046],[-.008,-.055],[.004,-.057],[-.152,-.055],[-.122,-.064],[-.119,-.077],[-.087,-.072],[-.204,-.094],[-.165,-.092],[-.184,-.096],[-.150,-.109],[-.062,-.103],[-.032,-.113],[.024,-.090],[-.154,-.133],[-.150,-.109],[-.129,-.171],[-.133,-.194],[-.073,-.148],[-.055,-.146],[-.061,-.122],[-.032,-.114],[-.004,-.134],[-.023,-.206],[-.014,-.228],[.031,-.214],[-.112,-.218],[-.098,-.236],[-.163,-.225],[.004,-.251],[-.018,-.285],[.008,-.280],[.027,-.308],[-.069,-.257],[.059,-.135]];
const brayCoreQT4 = [[-.171,.209],[-.200,.176],[-.184,.152],[-.162,.148],[-.142,.148],[-.089,.170],[-.079,.137],[-.045,.219],[-.022,.170],[.010,.135],[.024,.141],[-.050,.120],[-.077,.116],[-.150,.103],[-.178,.092],[-.139,.092],[-.037,.084],[-.123,.074],[-.075,.074],[-.168,.070],[-.158,.064],[-.129,.053],[-.040,.055],[-.143,.036],[-.125,.014],[-.193,.027],[-.018,-.014],[-.039,-.023],[-.008,-.027],[-.177,-.032],[-.121,-.040],[-.050,-.046],[-.097,-.068],[-.123,-.095],[-.083,-.122],[-.196,-.136],[-.144,-.136],[-.136,-.150],[-.113,-.148],[-.095,-.154],[-.083,-.124],[-.073,-.176],[-.050,-.178],[-.029,-.154],[-.019,-.158],[.008,-.120],[.017,-.152],[.040,-.153],[.061,-.158],[-.146,-.238],[-.125,-.223],[.010,-.230],[.021,-.238],[.052,-.210],[-.074,-.254],[-.104,-.291],[.003,-.300],[-.031,-.310],[-.023,-.318],[-.072,-.348]];
const brayEllipseQT1 = [[.325,-.0554],[.299,.0543],[.225,.1552],[.114,.2326],[-.017,.274],[-.148,.2734],[-.259,.2308],[-.333,.1529],[-.359,.0514],[-.333,-.0583],[-.259,-.1592],[-.148,-.2366],[-.017,-.278],[.114,-.2774],[.225,-.2348],[.299,-.1569]];
const brayEllipseQT2 = [[.284,-.0465],[.2598,.0802],[.191,.1936],[.088,.2765],[-.0335,.3162],[-.155,.3067],[-.258,.2494],[-.3268,.1532],[-.351,.0325],[-.3268,-.0942],[-.258,-.2076],[-.155,-.2905],[-.0335,-.3302],[.088,-.3207],[.191,-.2634],[.2598,-.1672]];
const brayEllipseQT3 = [[.349,.0275],[.3207,.1473],[.240,.2451],[.1194,.3059],[-.023,.3205],[-.1654,.2867],[-.286,.2097],[-.3667,.1011],[-.395,-.0225],[-.3667,-.1423],[-.286,-.2401],[-.1654,-.3009],[-.023,-.3155],[.1194,-.2817],[.240,-.2047],[.3207,-.0961]];
const brayEllipseQT4 = [[.287,.012],[.2629,.1441],[.1942,.2555],[.0913,.3292],[-.030,.354],[-.1513,.3262],[-.2542,.2499],[-.3229,.1367],[-.347,.004],[-.3229,-.1281],[-.2542,-.2395],[-.1513,-.3132],[-.030,-.338],[.0913,-.3102],[.1942,-.2339],[.2629,-.1207]];

const FONT = '"Liberation Sans", Arial, sans-serif';
const panelBorder = {
  id:'panelBorder',
  afterDatasetsDraw(chart){
    const a = chart.chartArea, c = chart.ctx;
    c.save(); c.strokeStyle='#333333'; c.lineWidth=2.6;
    c.strokeRect(a.left,a.top,a.right-a.left,a.bottom-a.top); c.restore();
  }
};
const label = (v,dec)=>v.toFixed(dec).replace('-','\u2212');

function axis(range,ticks,major,dec,titleText,fixed,tickExtra,titleLH){
  const isMajor = t=>major.includes(t.value);
  return {
    type:'linear',min:range[0],max:range[1],
    afterBuildTicks(s){ s.ticks = ticks.map(value=>({value})); },
    afterFit: fixed,
    border:{display:false},
    grid:{
      color:'#ebebeb',
      lineWidth:c=>c.tick&&isMajor(c.tick)?4:2,
      tickLength:11,
      tickColor:c=>c.tick&&isMajor(c.tick)?'#333333':'rgba(0,0,0,0)',
      tickWidth:c=>c.tick&&isMajor(c.tick)?4:0
    },
    ticks:{
      autoSkip:false,maxRotation:0,minRotation:0,color:'#4d4d4d',
      font:{family:FONT,size:34.6},
      callback:v=>major.includes(v)?label(v,dec):'',
      ...tickExtra
    },
    title:{display:true,text:titleText,color:'#000',padding:0,font:{family:FONT,size:43.5,lineHeight:titleLH}}
  };
}

function panel(id,cfg){
  const datasets=[];
  cfg.outlines.forEach((v,i)=>{
    // wrap the outline by one vertex at each end; the two end segments are hidden so the seam stays smooth
    const n=v.length+3;
    datasets.push({
      label:groupNames[i]+' ellipse',
      data:[v[v.length-1],...v,v[0],v[1]],
      showLine:true,fill:'shape',tension:.34,
      borderColor:groupColors[i],backgroundColor:groupFills[i],borderWidth:4,
      segment:{borderColor:c=>(c.p0DataIndex===0||c.p1DataIndex===n-1)?'rgba(0,0,0,0)':undefined},
      pointRadius:0,pointHoverRadius:0,order:4-i
    });
  });
  // layered batches per group so that the colours interleave as in the dense core
  cfg.layers.forEach((batch,b)=>batch.forEach((v,i)=>datasets.push({
    label:groupNames[i],
    data:v,
    pointRadius:9.4,pointHoverRadius:9.4,pointBorderWidth:0,
    pointBackgroundColor:groupColors[i],backgroundColor:groupColors[i],borderColor:groupColors[i],
    order:60-b*20-i
  })));
  new Chart(document.getElementById(id),{
    type:'scatter',
    data:{datasets},
    plugins:[panelBorder],
    options:{
      responsive:false,animation:false,events:[],devicePixelRatio:1,
      layout:{padding:{left:0,right:cfg.padRight,top:0,bottom:22}},
      plugins:{
        legend:{display:false},tooltip:{enabled:false},
        title:{display:true,text:cfg.title,fullSize:false,color:'#000',
          font:{family:FONT,size:51.2,weight:'normal'},padding:{top:3,bottom:18.06}}
      },
      scales:{
        x:axis(cfg.xRange,cfg.xTicks,cfg.xMajor,cfg.xDec,cfg.xTitle,s=>{s.height=102;},{padding:5},.84),
        y:axis(cfg.yRange,cfg.yTicks,cfg.yMajor,1,cfg.yTitle,s=>{s.width=cfg.yWidth;},{padding:10,labelOffset:2},.92)
      }
    }
  });
}

panel('c1',{title:'Weighted UniFrac',xTitle:'Axis.1   [29.1%]',yTitle:'Axis.2   [15.7%]',
  xRange:[-0.439,0.7035],yRange:[-0.3204,0.639],xTicks:weightedXTicks,xMajor:weightedXMajor,yTicks:weightedYTicks,yMajor:weightedYMajor,xDec:2,
  yWidth:143,padRight:12,
  layers:[[weightedQT1,weightedQT2,weightedQT3,weightedQT4],
          [weightedCoreQT1,weightedCoreQT2,weightedCoreQT3,weightedCoreQT4],
          [weightedDenseQT1,weightedDenseQT2,weightedDenseQT3,weightedDenseQT4]],
  outlines:[weightedEllipseQT1,weightedEllipseQT2,weightedEllipseQT3,weightedEllipseQT4]});
panel('c2',{title:'Unweighted UniFrac',xTitle:'Axis.1   [13.3%]',yTitle:'Axis.2   [6.2%]',
  xRange:[-0.381,0.3645],yRange:[-0.2656,0.2687],xTicks:unweightedXTicks,xMajor:unweightedXMajor,yTicks:unweightedYTicks,yMajor:unweightedYMajor,xDec:1,
  yWidth:143.4,padRight:19,
  layers:[[unweightedQT1,unweightedQT2,unweightedQT3,unweightedQT4]],
  outlines:[unweightedEllipseQT1,unweightedEllipseQT2,unweightedEllipseQT3,unweightedEllipseQT4]});
panel('c3',{title:'Bray\u2212Curtis',xTitle:'Axis.1   [10.4%]',yTitle:'Axis.2   [8.4%]',
  xRange:[-0.442,0.634],yRange:[-0.4575,0.4014],xTicks:brayXTicks,xMajor:brayXMajor,yTicks:brayYTicks,yMajor:brayYMajor,xDec:1,
  yWidth:143,padRight:12,
  layers:[[brayQT1,brayQT2,brayQT3,brayQT4],
          [brayCoreQT1,brayCoreQT2,brayCoreQT3,brayCoreQT4]],
  outlines:[brayEllipseQT1,brayEllipseQT2,brayEllipseQT3,brayEllipseQT4]});
</script>
</body>
</html>
